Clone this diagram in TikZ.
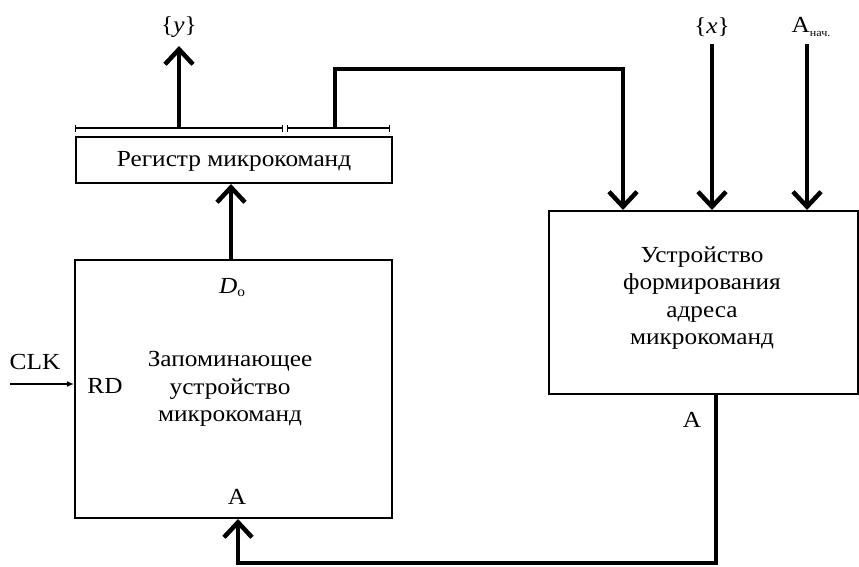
\documentclass[tikz,border=0pt]{standalone}
\usepackage{fontspec}
\setmainfont[FakeStretch=1.1]{Liberation Serif}
\usetikzlibrary{arrows.meta,calc}
\begin{document}
\begin{tikzpicture}[x=1pt,y=-1pt,
  box/.style={draw,line width=2pt,inner sep=0pt,anchor=north west},
  bus/.style={line width=4.5pt},
  busarrow/.style={line width=4.5pt,-{Straight Barb[length=15pt,width=28pt]}},
  brk/.style={line width=1.4pt,{Bar[width=7pt]}-{Bar[width=7pt]}},
  lbl/.style={font=\fontsize{23}{27}\selectfont,inner sep=0pt},
  txt/.style={font=\fontsize{23}{27.5}\selectfont,align=center,inner sep=0pt}]
\useasboundingbox (0,0) rectangle (859,566);
% boxes
\node[box,minimum width=316pt,minimum height=46pt] (reg) at (75,136) {};
\node[lbl] (regt) at ($(reg.center)+(0,1)$) {Регистр микрокоманд};
\node[box,minimum width=317pt,minimum height=258pt] (mem) at (74,259) {};
\node[box,minimum width=309pt,minimum height=183pt] (fa) at (548,210) {};
\node[txt] (memt) at (230,389) {Запоминающее\\устройство\\микрокоманд};
\node[txt] (fat) at (702,298) {Устройство\\формирования\\адреса\\микрокоманд};
% register field brackets
\coordinate (b1l) at (75,128);
\coordinate (b1r) at (283,128);
\coordinate (b2l) at (287,128);
\coordinate (b2r) at (390,128);
\draw[brk] (b1l) -- (b1r);
\draw[brk] (b2l) -- (b2r);
% {y} output
\coordinate (ys) at (179,128);
\coordinate (ye) at (179,46);
\draw[busarrow] (ys) -- (ye);
\node[lbl] (ylab) at (179,27) {\{\textit{y}\}};
% register field to address unit
\coordinate (fs) at (335,128);
\coordinate (fc1) at (335,69);
\coordinate (fc2) at (623,69);
\draw[busarrow] (fs) -- (fc1) -- (fc2) -- (fc2 |- fa.north);
% {x} input
\coordinate (xs) at (712,44);
\draw[busarrow] (xs) -- (xs |- fa.north);
\node[lbl] (xlab) at (712,27) {\{\textit{x}\}};
% A_nach input
\coordinate (as) at (807,44);
\draw[busarrow] (as) -- (as |- fa.north);
\node[lbl] (alab) at (811,27) {А\raisebox{-4pt}{\fontsize{11}{12}\selectfont нач.}};
% memory to register
\coordinate (mo) at (231,259);
\draw[busarrow] (mo) -- (mo |- reg.south);
% address feedback
\coordinate (ao) at (716,393);
\coordinate (ac1) at (716,563);
\coordinate (ac2) at (238,563);
\draw[busarrow] (ao) -- (ac1) -- (ac2) -- (ac2 |- mem.south);
% CLK
\coordinate (clk) at (10,384);
\draw[line width=2pt,-{Latex[length=7pt,width=6pt]}] (clk) -- (clk -| mem.west);
\node[lbl] (clklab) at (35,362) {CLK};
\node[lbl] (rd) at (105,386) {RD};
\node[lbl] (do) at (232,288) {\textit{D}\raisebox{-3pt}{\fontsize{14}{14}\selectfont о}};
\node[lbl] (ain) at (237,497) {А};
\node[lbl] (aout) at (692,420) {А};
\end{tikzpicture}
\end{document}
